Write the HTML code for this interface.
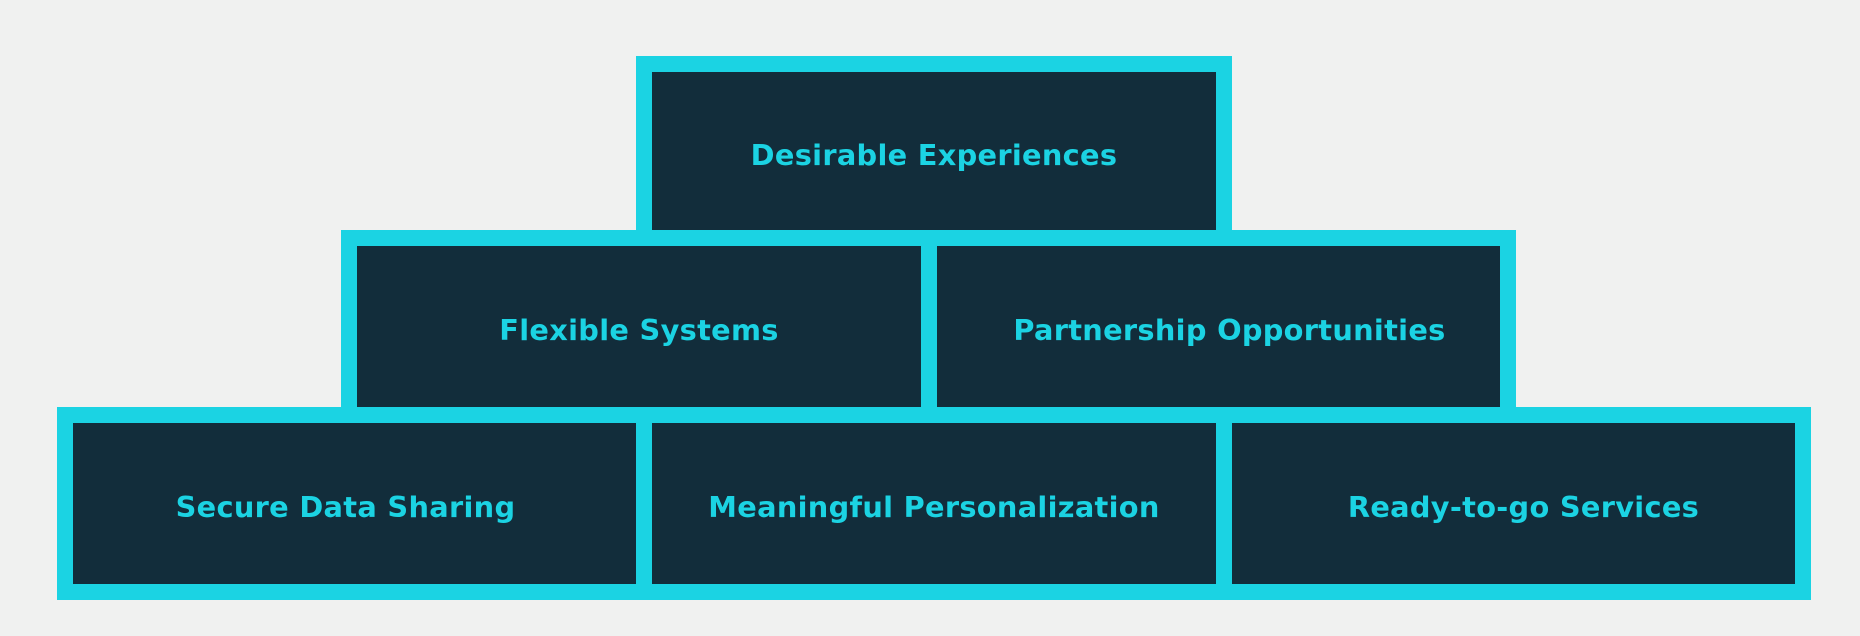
<!DOCTYPE html>
<html>
<head>
<meta charset="utf-8">
<style>
  html, body { margin: 0; padding: 0; }
  body {
    width: 1860px; height: 636px; overflow: hidden;
    background: #f0f1f0; position: relative;
    font-family: "DejaVu Sans", "Liberation Sans", sans-serif;
  }
  .cy { position: absolute; background: #1bd3e3; }
  .cell {
    position: absolute; background: #122d3b;
    display: flex; align-items: center; justify-content: center;
    color: #1bd3e3; font-weight: bold; font-size: 28.8px;
    letter-spacing: 0.3px; white-space: nowrap;
    box-sizing: border-box; padding-top: 7px;
  }
</style>
</head>
<body>
  <!-- cyan frames -->
  <div class="cy" style="left:636px; top:56px; width:596px; height:190px;"></div>
  <div class="cy" style="left:341px; top:230px; width:1175px; height:193px;"></div>
  <div class="cy" style="left:57px; top:407px; width:1754px; height:193px;"></div>

  <!-- top -->
  <div class="cell" style="left:652px; top:72px; width:564px; height:158px;">Desirable Experiences</div>

  <!-- middle -->
  <div class="cell" style="left:357px; top:246px; width:564px; height:161px;">Flexible Systems</div>
  <div class="cell" style="left:937px; top:246px; width:563px; height:161px; padding-left:22px;">Partnership Opportunities</div>

  <!-- bottom -->
  <div class="cell" style="left:73px; top:423px; width:563px; height:161px; padding-right:18px;">Secure Data Sharing</div>
  <div class="cell" style="left:652px; top:423px; width:564px; height:161px;">Meaningful Personalization</div>
  <div class="cell" style="left:1232px; top:423px; width:563px; height:161px; padding-left:20px;">Ready-to-go Services</div>
</body>
</html>
